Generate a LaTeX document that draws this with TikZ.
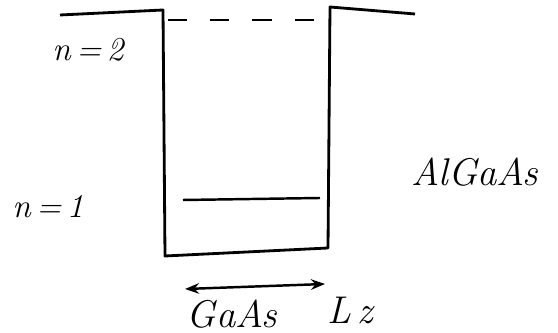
\documentclass[tikz,border=0pt]{standalone}
\usetikzlibrary{arrows.meta}
\begin{document}
\begin{tikzpicture}[x=0.02cm,y=-0.02cm,
  band/.style={line width=1.6pt,line join=round},
  level/.style={line width=1.4pt},
  lbl/.style={font=\fontsize{19}{22}\selectfont\itshape,inner sep=0pt},
  big/.style={font=\fontsize{22}{25}\selectfont\itshape,inner sep=0pt}]
\useasboundingbox (0,0) rectangle (558,333);
\coordinate (l0) at (60,15);
\coordinate (l1) at (163,10);
\coordinate (bl) at (165,256);
\coordinate (br) at (328,248);
\coordinate (r1) at (330,7);
\coordinate (r0) at (415,14);
\draw[band] (l0) -- (l1) -- (bl) -- (br) -- (r1) -- (r0);
\coordinate (d0) at (168,20);
\coordinate (d1) at (318,20);
\draw[level,dash pattern=on 11pt off 13pt] (d0) -- (d1);
\coordinate (e0) at (183,200);
\coordinate (e1) at (320,198);
\draw[level] (e0) -- (e1);
\coordinate (a0) at (185,289);
\coordinate (a1) at (325,284);
\draw[level,{Stealth[length=8pt]}-{Stealth[length=8pt]}] (a0) -- (a1);
\node[lbl] (n2) at (88,50) {n\,=\,2};
\node[lbl] (n1) at (48,207) {n\,=\,1};
\node[big] (alg) at (475,172) {AlGaAs};
\node[big] (gaas) at (232,314) {GaAs};
\node[big] (lz) at (350,310) {L\,z};
\end{tikzpicture}
\end{document}
